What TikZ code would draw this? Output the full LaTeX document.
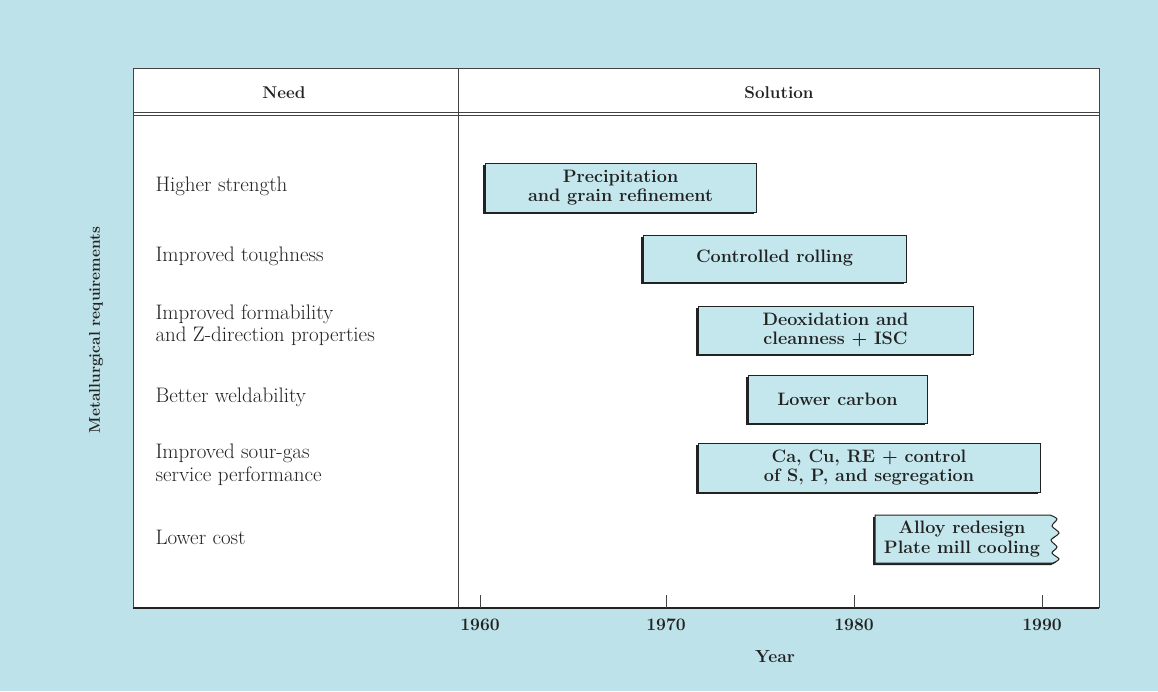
\documentclass[tikz,border=0pt]{standalone}
\usepackage{tikz}
\usetikzlibrary{shadows}

\definecolor{paper}{HTML}{BEE2E9}
\definecolor{barblue}{HTML}{C4E7EE}
\definecolor{ink}{HTML}{222222}

\tikzset{
	frame/.style={draw=ink!85,line width=1pt},
	bartext/.style={align=center,inner sep=0pt,text=ink,font=\fontsize{18}{19.5}\selectfont\bfseries},
	barbox/.style={draw=ink,line width=1pt,fill=barblue,
		drop shadow={shadow xshift=-2pt,shadow yshift=-2pt,fill=ink,opacity=1}},
	bar/.style={bartext,barbox},
	need/.style={anchor=west,align=left,text=ink,font=\fontsize{21}{22.5}\selectfont},
	head/.style={text=ink,font=\fontsize{17}{19}\selectfont\bfseries},
	yr/.style={text=ink,font=\fontsize{17.5}{19}\selectfont\bfseries}
}

\begin{document}
\begin{tikzpicture}[x=1pt,y=-1pt]
	\fill[paper] (0,0) rectangle (1158,691);
	\useasboundingbox (0,0) rectangle (1158,691);
	% table
	\fill[white] (133,68) rectangle (1099,608);
	\draw[frame] (133,608) -- (133,68) -- (1099,68) -- (1099,608);
	\draw[frame] (458,68) -- (458,608);
	\draw[frame] (133,112) -- (1099,112) (133,115.5) -- (1099,115.5);
	\draw[ink,line width=2pt] (133,608) -- (1099,608);
	\node[head] (need) at (284,93) {Need};
	\node[head] (sol) at (779,93) {Solution};
	\node[head,rotate=90,font=\fontsize{15.5}{18}\selectfont\bfseries] (metreq) at (96,330) {Metallurgical requirements};
	% needs
	\node[need] (strength) at (152,186) {Higher strength};
	\node[need] (tough) at (152,256) {Improved toughness};
	\node[need] (form) at (152,325) {Improved formability\\and Z-direction properties};
	\node[need] (weld) at (152,397) {Better weldability};
	\node[need] (sour) at (152,465) {Improved sour-gas\\service performance};
	\node[need] (cost) at (152,537) {Lower cost};
	% solutions
	\node[bar,minimum width=271pt,minimum height=49pt] (precip) at (620.5,187.5) {Precipitation\\and grain refinement};
	\node[bar,minimum width=263pt,minimum height=47pt] (rolling) at (774.5,258.5) {Controlled rolling};
	\node[bar,minimum width=275pt,minimum height=48pt] (deox) at (835.5,330) {Deoxidation and\\cleanness + ISC};
	\node[bar,minimum width=179pt,minimum height=48pt] (carbon) at (837.5,399) {Lower carbon};
	\node[bar,minimum width=342pt,minimum height=49pt] (cacu) at (869,467.5) {Ca, Cu, RE + control\\of S, P, and segregation};
	\draw[barbox] (875,515) -- (1050,515) -- plot[smooth] coordinates {(1050,515) (1057,519) (1052,526) (1059,533) (1051,540) (1057,547) (1052,553) (1059,559) (1053,563)} -- (875,563) -- cycle;
	\node[bartext] (alloy) at (962,539) {Alloy redesign\\Plate mill cooling};
	% year axis
	\foreach \yr/\px in {1960/480,1970/666,1980/854,1990/1042} {
		\draw[frame] (\px,595) -- (\px,608);
		\node[yr] (y\yr) at (\px,625) {\yr};
	}
	\node[yr] (year) at (775,657) {Year};
\end{tikzpicture}
\end{document}
